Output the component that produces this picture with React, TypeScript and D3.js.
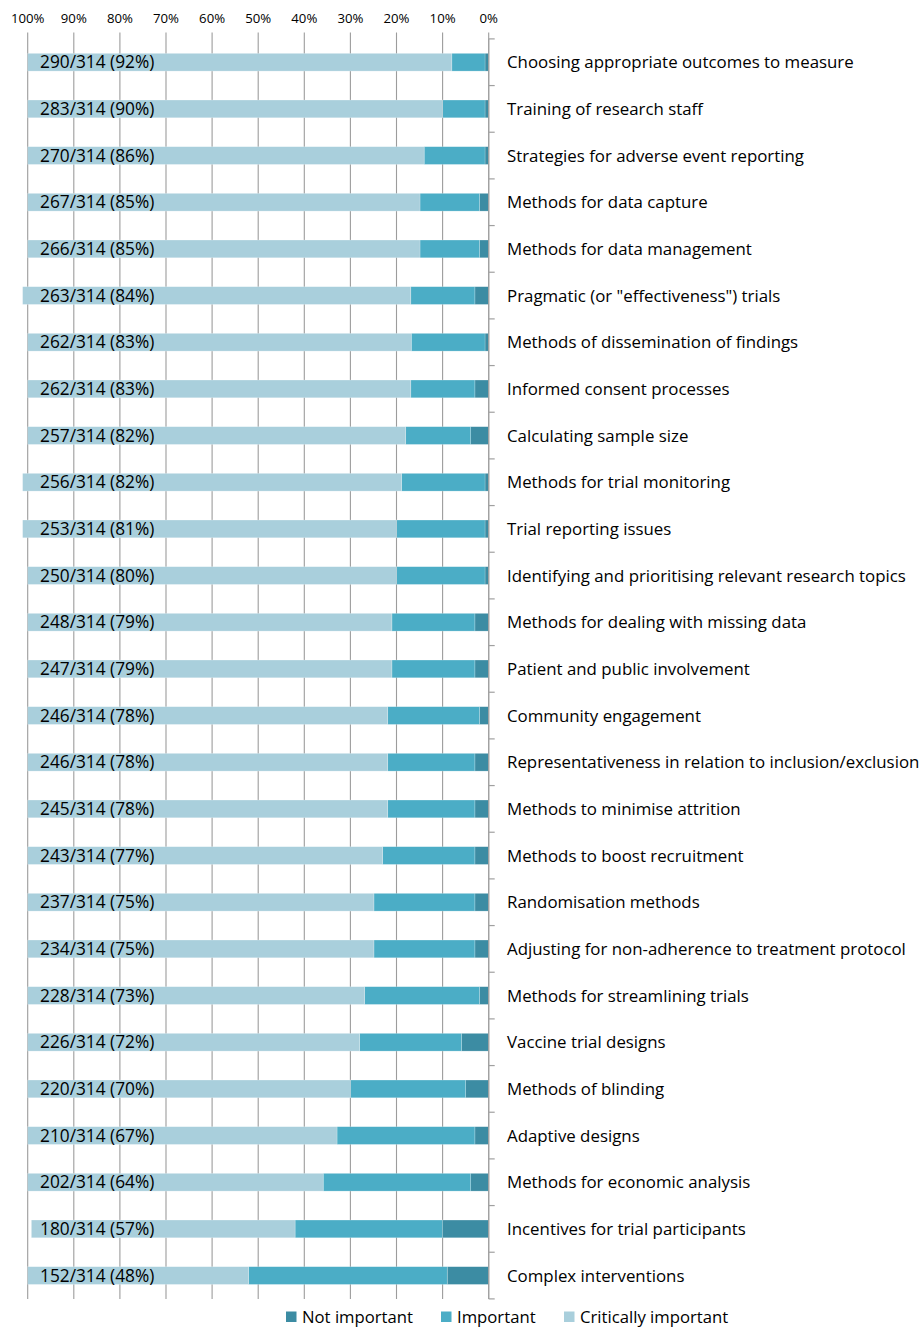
import React from "react";
import * as d3 from "d3";

const categories = [
  "Choosing appropriate outcomes to measure",
  "Training of research staff",
  "Strategies for adverse event reporting",
  "Methods for data capture",
  "Methods for data management",
  'Pragmatic (or "effectiveness") trials',
  "Methods of dissemination of findings",
  "Informed consent processes",
  "Calculating sample size",
  "Methods for trial monitoring",
  "Trial reporting issues",
  "Identifying and prioritising relevant research topics",
  "Methods for dealing with missing data",
  "Patient and public involvement",
  "Community engagement",
  "Representativeness in relation to inclusion/exclusion",
  "Methods to minimise attrition",
  "Methods to boost recruitment",
  "Randomisation methods",
  "Adjusting for non-adherence to treatment protocol",
  "Methods for streamlining trials",
  "Vaccine trial designs",
  "Methods of blinding",
  "Adaptive designs",
  "Methods for economic analysis",
  "Incentives for trial participants",
  "Complex interventions",
];

const totalRespondents = 314;
const criticalCounts = [
  290, 283, 270, 267, 266, 263, 262, 262, 257, 256, 253, 250, 248, 247, 246, 246, 245, 243, 237, 234,
  228, 226, 220, 210, 202, 180, 152,
];

// percentages
const notImportant = [
  0.8, 0.8, 0.8, 2.0, 2.0, 3.0, 0.8, 3.0, 3.9, 0.8, 0.8, 0.8, 3.0, 3.0, 2.0, 3.0, 3.0, 3.0, 3.0, 3.0,
  2.0, 5.9, 5.0, 3.0, 3.9, 10.0, 9.0,
];
const important = [
  7.2, 9.2, 13.2, 12.9, 12.9, 13.9, 16.0, 13.9, 14.1, 18.1, 19.2, 19.2, 18.0, 18.0, 19.9, 18.9, 18.9,
  20.0, 21.9, 21.9, 24.9, 22.1, 25.0, 29.9, 32.0, 32.0, 43.1,
];
const critical = [
  92.0, 90.0, 86.0, 85.1, 85.1, 84.2, 83.2, 83.1, 82.0, 82.2, 81.1, 80.0, 79.0, 79.0, 78.1, 78.1, 78.1,
  77.0, 75.1, 75.1, 73.1, 72.0, 70.0, 67.1, 64.1, 57.2, 47.9,
];

const xTicks = [100, 90, 80, 70, 60, 50, 40, 30, 20, 10, 0];

const seriesNames = ["Not important", "Important", "Critically important"];
const seriesColors = ["#3c8ca3", "#4badc6", "#a9cfdc"];

const W = 921;
const H = 1327;
const FONT = "'Open Sans', sans-serif";

export default function App() {
  const x = d3.scaleLinear().domain([0, 100]).range([488.7, 27.7]);
  const y = d3
    .scaleBand<string>()
    .domain(categories)
    .range([38.9, 1298.9])
    .paddingInner(0.62)
    .paddingOuter(0.31);

  const rows = categories.map((c, i) => ({
    cat: c,
    values: [notImportant[i], important[i], critical[i]],
    count: criticalCounts[i],
  }));

  const stack = d3
    .stack<any>()
    .keys(["0", "1", "2"])
    .value((d, k) => d.values[+k]);
  const stacked = stack(rows);

  const step = y.step();
  const top = y.range()[0];
  const bottom = y.range()[1];
  const axisX = x(0);

  const legendItems = [
    { x: 286, name: seriesNames[0], color: seriesColors[0] },
    { x: 441, name: seriesNames[1], color: seriesColors[1] },
    { x: 564, name: seriesNames[2], color: seriesColors[2] },
  ];

  return (
    <div style={{ position: "absolute", left: 0, top: 0 }}>
      <svg width={W} height={H} style={{ display: "block", background: "#fff" }} fontFamily={FONT}>
        {/* vertical grid + top tick marks */}
        <g>
          {xTicks.map((t) => (
            <line
              key={"g" + t}
              x1={x(t)}
              x2={x(t)}
              y1={top - 6.5}
              y2={bottom}
              stroke="#9c9c9c"
              strokeWidth={1.1}
            />
          ))}
          {xTicks.map((t) => (
            <text key={"t" + t} x={x(t)} y={23} textAnchor="middle" fontSize={13.2} fill="#000">
              {t}%
            </text>
          ))}
        </g>

        {/* bars */}
        {stacked.map((layer, li) => (
          <g key={li} fill={seriesColors[li]}>
            {layer.map((d, i) => (
              <rect
                key={i}
                x={x(d[1])}
                y={y(categories[i])}
                width={x(d[0]) - x(d[1])}
                height={y.bandwidth()}
                stroke="#ffffff"
                strokeOpacity={0.35}
                strokeWidth={0.6}
              />
            ))}
          </g>
        ))}

        {/* labels in bars */}
        {rows.map((r) => (
          <text
            key={"l" + r.cat}
            x={40}
            y={(y(r.cat) ?? 0) + y.bandwidth() / 2}
            dy="0.36em"
            fontSize={17.3}
            fill="#000"
          >
            {`${r.count}/${totalRespondents} (${Math.round((r.count / totalRespondents) * 100)}%)`}
          </text>
        ))}

        {/* category axis at 0% */}
        <g stroke="#a0a0a0" strokeWidth={1.2}>
          <line x1={axisX} x2={axisX} y1={top} y2={bottom} />
          {d3.range(categories.length + 1).map((i) => (
            <line key={i} x1={axisX} x2={axisX + 6} y1={top + i * step} y2={top + i * step} />
          ))}
        </g>
        {categories.map((c) => (
          <text
            key={"c" + c}
            x={507}
            y={(y(c) ?? 0) + y.bandwidth() / 2}
            dy="0.36em"
            fontSize={16.85}
            fill="#000"
          >
            {c}
          </text>
        ))}

        {/* legend */}
        {legendItems.map((l) => (
          <g key={l.name}>
            <rect x={l.x} y={1311.5} width={10.5} height={10.5} fill={l.color} />
            <text x={l.x + 16} y={1316.5} dy="0.36em" fontSize={16.7} fill="#000">
              {l.name}
            </text>
          </g>
        ))}
      </svg>
    </div>
  );
}
